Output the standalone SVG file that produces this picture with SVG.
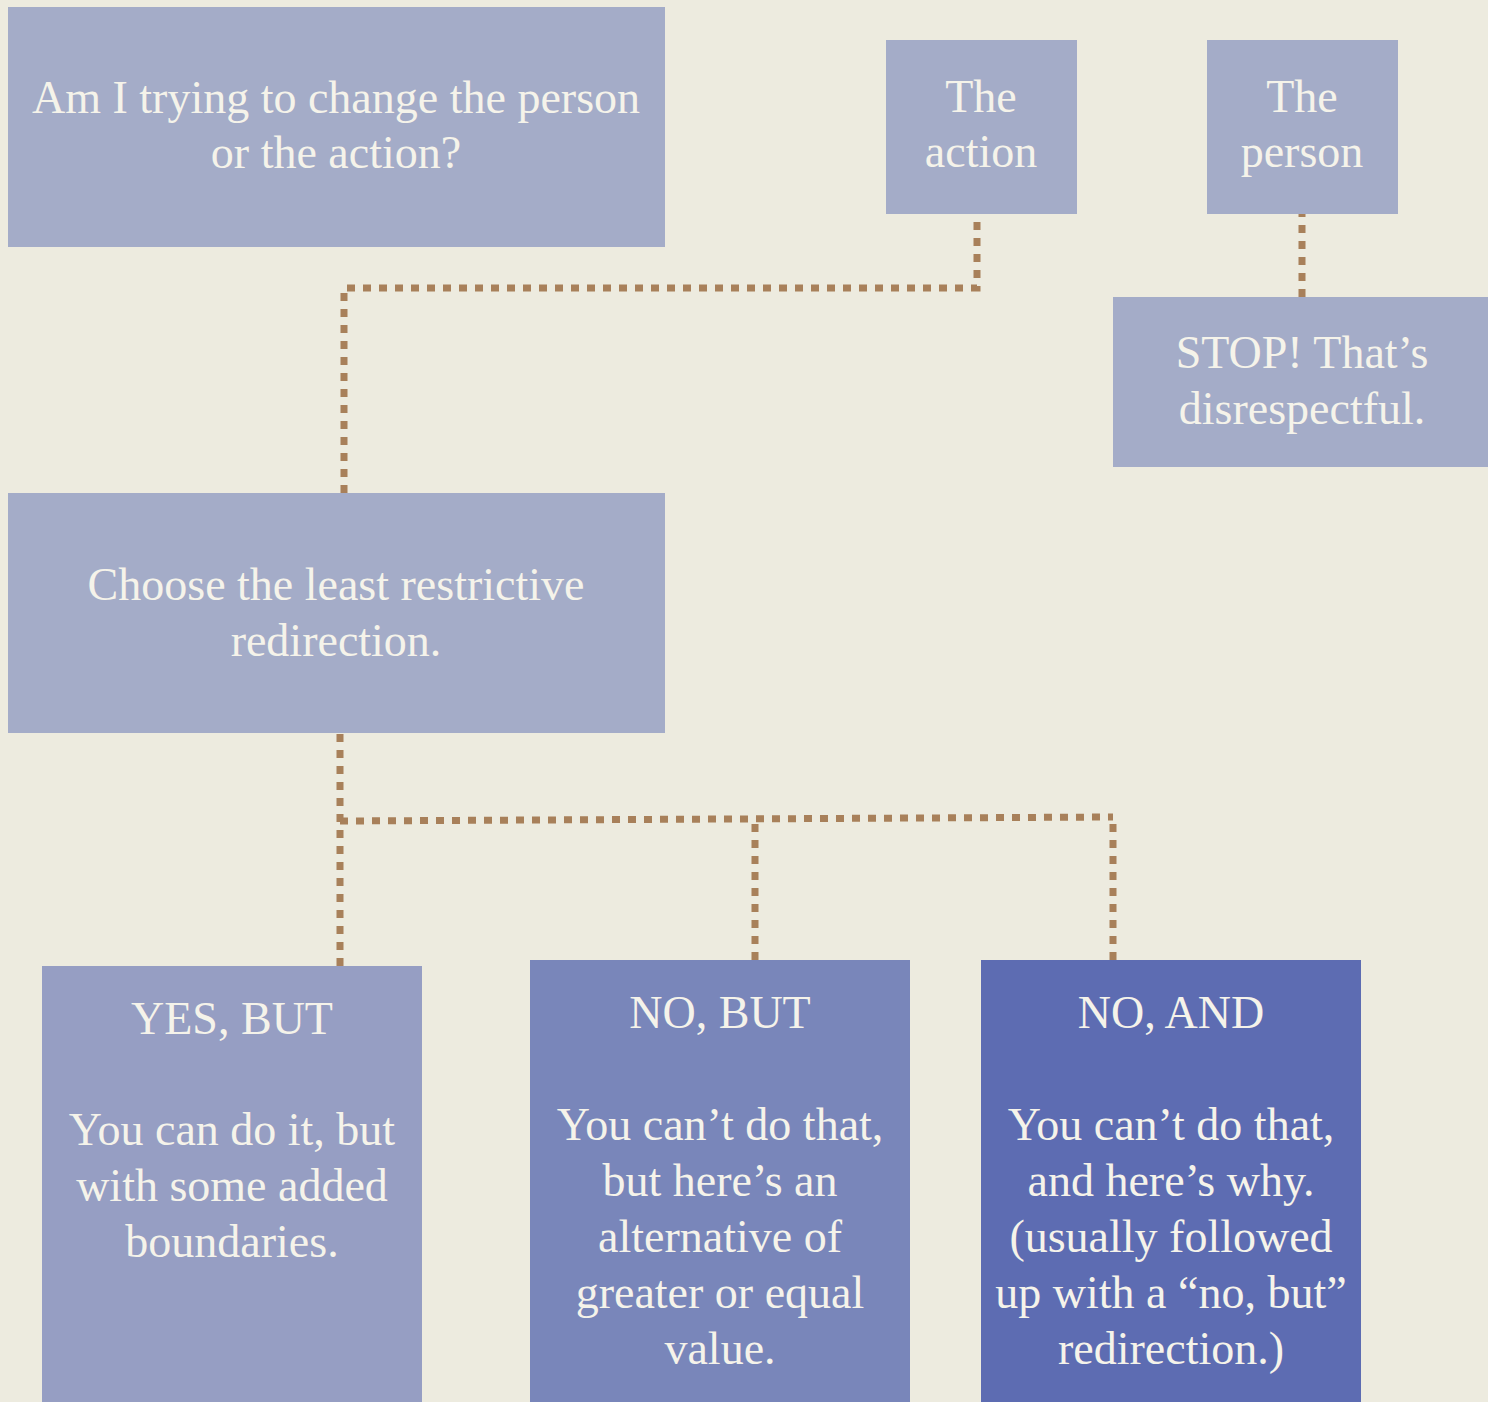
<svg xmlns="http://www.w3.org/2000/svg" width="1488" height="1402" viewBox="0 0 1488 1402">
<style>
.t{font-family:"Liberation Serif","Times New Roman",serif;font-size:46px;fill:#F5F3EA;text-anchor:middle}
.c{fill:none;stroke:#A8805A;stroke-width:7;stroke-dasharray:8 8}
.b1{fill:#A4ACC8}
</style>
<rect width="1488" height="1402" fill="#EDEBDF"/>
<g id="connectors">
<path class="c" d="M344,493 V288 H977 V214"/>
<path class="c" d="M1302,297 V214"/>
<path class="c" d="M340,966 V733"/>
<path class="c" d="M340,821 L1113,817"/>
<path class="c" d="M755,960 V819"/>
<path class="c" d="M1113,960 V817"/>
</g>
<g id="question">
<rect class="b1" x="8" y="7" width="657" height="240"/>
<text class="t" x="336" y="113">Am I trying to change the person</text>
<text class="t" x="336" y="168">or the action?</text>
</g>
<g id="action">
<rect class="b1" x="886" y="40" width="191" height="174"/>
<text class="t" x="981" y="112">The</text>
<text class="t" x="981" y="167">action</text>
</g>
<g id="person">
<rect class="b1" x="1207" y="40" width="191" height="174"/>
<text class="t" x="1302" y="112">The</text>
<text class="t" x="1302" y="167">person</text>
</g>
<g id="stop">
<rect class="b1" x="1113" y="297" width="375" height="170"/>
<text class="t" x="1302" y="368">STOP! That’s</text>
<text class="t" x="1302" y="424">disrespectful.</text>
</g>
<g id="choose">
<rect class="b1" x="8" y="493" width="657" height="240"/>
<text class="t" x="336" y="600">Choose the least restrictive</text>
<text class="t" x="336" y="656">redirection.</text>
</g>
<g id="yes-but">
<rect x="42" y="966" width="380" height="436" fill="#969EC3"/>
<text class="t" x="232" y="1034">YES, BUT</text>
<text class="t" x="232" y="1145">You can do it, but</text>
<text class="t" x="232" y="1201">with some added</text>
<text class="t" x="232" y="1257">boundaries.</text>
</g>
<g id="no-but">
<rect x="530" y="960" width="380" height="442" fill="#7986BA"/>
<text class="t" x="720" y="1028">NO, BUT</text>
<text class="t" x="720" y="1140">You can’t do that,</text>
<text class="t" x="720" y="1196">but here’s an</text>
<text class="t" x="720" y="1252">alternative of</text>
<text class="t" x="720" y="1308">greater or equal</text>
<text class="t" x="720" y="1364">value.</text>
</g>
<g id="no-and">
<rect x="981" y="960" width="380" height="442" fill="#5D6CB2"/>
<text class="t" x="1171" y="1028">NO, AND</text>
<text class="t" x="1171" y="1140">You can’t do that,</text>
<text class="t" x="1171" y="1196">and here’s why.</text>
<text class="t" x="1171" y="1252">(usually followed</text>
<text class="t" x="1171" y="1308">up with a “no, but”</text>
<text class="t" x="1171" y="1364">redirection.)</text>
</g>
</svg>
